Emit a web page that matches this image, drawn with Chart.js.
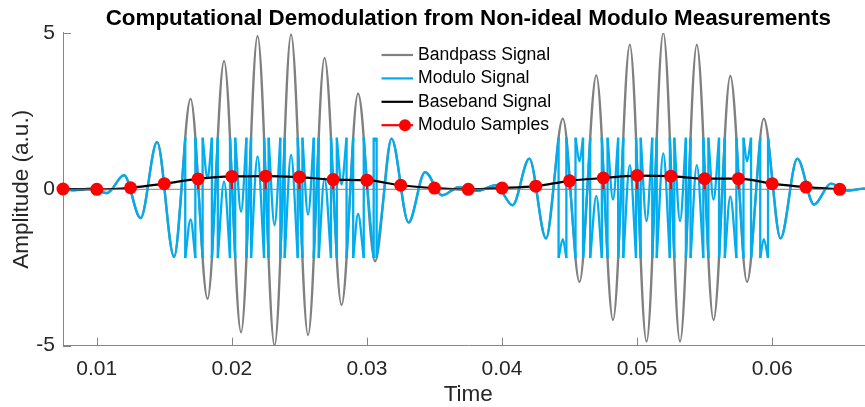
<!DOCTYPE html>
<html>
<head>
<meta charset="utf-8">
<script src="https://cdn.jsdelivr.net/npm/chart.js@4.4.1/dist/chart.umd.min.js"></script>
<style>
  html, body { margin: 0; padding: 0; background: #fff; overflow: hidden; }
  #wrap { width: 880px; height: 407px; }
</style>
</head>
<body>
<div id="wrap"><canvas id="chart" width="880" height="407"></canvas></div>
<script>
const titleText = 'Computational Demodulation from Non-ideal Modulo Measurements';
const xTitle = 'Time';
const yTitle = 'Amplitude (a.u.)';
const xMin = 0.0075, xMax = 0.0675;
const xTicks = [0.01, 0.02, 0.03, 0.04, 0.05, 0.06];
const xTickLabels = ['0.01', '0.02', '0.03', '0.04', '0.05', '0.06'];
const yTicks = [-5, 0, 5];
const legendOrder = ['Bandpass Signal', 'Modulo Signal', 'Baseband Signal', 'Modulo Samples'];

// modulo samples (stem) - also the baseband curve
const sampleTime = [0.0075, 0.01, 0.0125, 0.015, 0.0175, 0.02, 0.0225, 0.025, 0.0275, 0.03, 0.0325, 0.035,
    0.0375, 0.04, 0.0425, 0.045, 0.0475, 0.05, 0.0525, 0.055, 0.0575, 0.06, 0.0625, 0.065];
const sampleValue = [0.01, 0.0, 0.05, 0.18, 0.33, 0.41, 0.42, 0.39, 0.31, 0.29, 0.13, 0.04,
    0.0, 0.04, 0.10, 0.27, 0.36, 0.44, 0.42, 0.34, 0.34, 0.18, 0.07, 0.0];

// bandpass signal: [time, value] at its peaks and troughs
const bandpassSignal = [
    [0.0075, 0], [0.008283, -0.03], [0.009541, 0.02], [0.010762, -0.12], [0.012021, 0.45],
    [0.013242, -0.92], [0.014463, 1.51], [0.015722, -2.16], [0.016943, 2.89], [0.018201, -3.5],
    [0.019423, 4.1], [0.020681, -4.57], [0.021902, 4.9], [0.023161, -5.0], [0.024382, 4.95],
    [0.025640, -4.66], [0.026862, 4.2], [0.028120, -3.7], [0.029341, 3.06], [0.030600, -2.3],
    [0.031821, 1.62], [0.033080, -1.06], [0.034301, 0.55], [0.035559, -0.19], [0.036818, 0.07],
    [0.038150, -0.05], [0.039556, 0.13], [0.040778, -0.51], [0.042021, 0.98], [0.043257, -1.57],
    [0.044501, 2.26], [0.045737, -2.96], [0.046981, 3.64], [0.048217, -4.18], [0.049461, 4.62],
    [0.050697, -4.87], [0.051940, 5.0], [0.053177, -4.87], [0.054420, 4.62], [0.055656, -4.18],
    [0.056900, 3.62], [0.058137, -2.96], [0.059380, 2.26], [0.060616, -1.57], [0.061860, 0.98],
    [0.063096, -0.49], [0.064340, 0.18], [0.065576, -0.04], [0.066820, 0.02], [0.0675, 0.01]
];

// modulo signal: [time, value], a null value marks a fold (jump)
const moduloSignal = [
    [0.0075, 0], [0.008283, -0.03], [0.009541, 0.02], [0.010762, -0.12], [0.012021, 0.45],
    [0.013242, -0.92], [0.014463, 1.51], [0.015722, -2.16], [0.016333, 0.365], [0.016549, 1.65], [0.016549, null],
    [0.016549, -2.2], [0.016943, -0.96], [0.017298, -2.2], [0.017298, null],
    [0.017298, 1.65], [0.017572, -0.305], [0.017836, -2.2], [0.017836, null],
    [0.017836, 1.65], [0.018201, 0.35], [0.018522, 1.65], [0.018522, null],
    [0.018522, -2.2], [0.018812, 0.3], [0.018960, 1.65], [0.018960, null],
    [0.018960, -2.2], [0.019423, 0.25], [0.019864, -2.2], [0.019864, null],
    [0.019864, 1.65], [0.020052, -0.235], [0.020248, -2.2], [0.020248, null],
    [0.020248, 1.65], [0.020681, -0.72], [0.021080, 1.65], [0.021080, null],
    [0.021080, -2.2], [0.021292, 0.165], [0.021421, 1.65], [0.021421, null],
    [0.021421, -2.2], [0.021902, 1.05], [0.022385, -2.2], [0.022385, null],
    [0.022385, 1.65], [0.022532, -0.05], [0.022719, -2.2], [0.022719, null],
    [0.022719, 1.65], [0.023161, -1.15], [0.023588, 1.65], [0.023588, null],
    [0.023588, -2.2], [0.023772, -0.025], [0.023911, 1.65], [0.023911, null],
    [0.023911, -2.2], [0.024382, 1.10], [0.024878, -2.2], [0.024878, null],
    [0.024878, 1.65], [0.025011, 0.145], [0.025224, -2.2], [0.025224, null],
    [0.025224, 1.65], [0.025640, -0.81], [0.026064, 1.65], [0.026064, null],
    [0.026064, -2.2], [0.026251, -0.23], [0.026429, 1.65], [0.026429, null],
    [0.026429, -2.2], [0.026862, 0.35], [0.027339, -2.2], [0.027339, null],
    [0.027339, 1.65], [0.027491, 0.25], [0.027769, -2.2], [0.027769, null],
    [0.027769, 1.65], [0.028120, 0.15], [0.028492, 1.65], [0.028492, null],
    [0.028492, -2.2], [0.028731, -0.32], [0.028982, 1.65], [0.028982, null],
    [0.028982, -2.2], [0.029341, -0.79], [0.029764, -2.2], [0.029764, null],
    [0.029764, 1.65], [0.029971, 0.38], [0.030498, -2.2], [0.030498, null],
    [0.030498, 1.65], [0.030600, 1.55], [0.030716, 1.65], [0.030716, null],
    [0.030716, -2.2], [0.031211, -0.34], [0.031821, 1.62], [0.033080, -1.06], [0.034301, 0.55],
    [0.035559, -0.19], [0.036818, 0.07], [0.038150, -0.05], [0.039556, 0.13], [0.040778, -0.51],
    [0.042021, 0.98], [0.043257, -1.57], [0.043879, 0.345], [0.044187, 1.65], [0.044187, null],
    [0.044187, -2.2], [0.044501, -1.59], [0.044764, -2.2], [0.044764, null],
    [0.044764, 1.65], [0.045119, -0.35], [0.045440, -2.2], [0.045440, null],
    [0.045440, 1.65], [0.045737, 0.89], [0.046000, 1.65], [0.046000, null],
    [0.046000, -2.2], [0.046359, 0.34], [0.046528, 1.65], [0.046528, null],
    [0.046528, -2.2], [0.046981, -0.21], [0.047389, -2.2], [0.047389, null],
    [0.047389, 1.65], [0.047599, -0.27], [0.047811, -2.2], [0.047811, null],
    [0.047811, 1.65], [0.048217, -0.33], [0.048599, 1.65], [0.048599, null],
    [0.048599, -2.2], [0.048839, 0.22], [0.048976, 1.65], [0.048976, null],
    [0.048976, -2.2], [0.049461, 0.77], [0.049921, -2.2], [0.049921, null],
    [0.049921, 1.65], [0.050079, -0.125], [0.050265, -2.2], [0.050265, null],
    [0.050265, 1.65], [0.050697, -1.02], [0.051122, 1.65], [0.051122, null],
    [0.051122, -2.2], [0.051319, 0.065], [0.051454, 1.65], [0.051454, null],
    [0.051454, -2.2], [0.051940, 1.15], [0.052424, -2.2], [0.052424, null],
    [0.052424, 1.65], [0.052559, 0.065], [0.052754, -2.2], [0.052754, null],
    [0.052754, 1.65], [0.053177, -1.02], [0.053612, 1.65], [0.053612, null],
    [0.053612, -2.2], [0.053799, -0.125], [0.053957, 1.65], [0.053957, null],
    [0.053957, -2.2], [0.054420, 0.77], [0.054902, -2.2], [0.054902, null],
    [0.054902, 1.65], [0.055038, 0.22], [0.055276, -2.2], [0.055276, null],
    [0.055276, 1.65], [0.055656, -0.33], [0.056066, 1.65], [0.056066, null],
    [0.056066, -2.2], [0.056278, -0.28], [0.056492, 1.65], [0.056492, null],
    [0.056492, -2.2], [0.056900, -0.23], [0.057349, -2.2], [0.057349, null],
    [0.057349, 1.65], [0.057519, 0.33], [0.057875, -2.2], [0.057875, null],
    [0.057875, 1.65], [0.058137, 0.89], [0.058436, 1.65], [0.058436, null],
    [0.058436, -2.2], [0.058759, -0.35], [0.059115, 1.65], [0.059115, null],
    [0.059115, -2.2], [0.059380, -1.59], [0.059692, -2.2], [0.059692, null],
    [0.059692, 1.65], [0.059998, 0.345], [0.060616, -1.57], [0.061860, 0.98], [0.063096, -0.49],
    [0.064340, 0.18], [0.065576, -0.04], [0.066820, 0.02], [0.0675, 0.01]
];

const gray = '#808080';
const blue = '#00adef';
const red = '#ff0000';
const axisColor = '#868686';
const textColor = '#262626';
const fontFamily = '"Liberation Sans", Arial, Helvetica, sans-serif';

Chart.defaults.font.family = fontFamily;
Chart.defaults.color = textColor;

const toXY = pairs => pairs.map(([x, y]) => ({ x, y }));

// vertical jumps of the modulo signal, joined from the points around each break
const foldLines = [];
moduloSignal.forEach(([t, v], i) => {
    if (v === null) {
        const a = moduloSignal[i - 1], b = moduloSignal[i + 1];
        foldLines.push({ x: a[0], y: a[1] }, { x: b[0], y: b[1] }, { x: t, y: null });
    }
});

const baseband = sampleTime.map((t, i) => ({ x: t, y: sampleValue[i] }));
const stems = sampleTime.flatMap((t, i) => [{ x: t, y: 0 }, { x: t, y: sampleValue[i] }, { x: t, y: null }]);

// inward tick marks like matlab
const insideTicks = {
    id: 'insideTicks',
    beforeDatasetsDraw(chart) {
        const { ctx, chartArea: a, scales: { x, y } } = chart;
        ctx.save();
        ctx.strokeStyle = axisColor;
        ctx.lineWidth = 1;
        ctx.beginPath();
        xTicks.forEach(v => {
            const px = Math.round(x.getPixelForValue(v)) + 0.5;
            ctx.moveTo(px, a.bottom);
            ctx.lineTo(px, a.bottom - 8);
        });
        yTicks.forEach(v => {
            const py = Math.round(y.getPixelForValue(v)) + 0.5;
            ctx.moveTo(a.left, py);
            ctx.lineTo(a.left + 8, py);
        });
        ctx.stroke();
        ctx.restore();
    }
};

// legend drawn inside the axes
const innerLegend = {
    id: 'innerLegend',
    afterDraw(chart) {
        const ctx = chart.ctx;
        const sets = chart.data.datasets;
        ctx.save();
        ctx.font = '17.6px ' + fontFamily;
        ctx.textBaseline = 'middle';
        legendOrder.forEach((name, i) => {
            const d = sets.find(s => s.label === name && s.inLegend);
            const yy = 55 + i * 23.4;
            ctx.strokeStyle = d.borderColor;
            ctx.lineWidth = 2.2;
            ctx.beginPath();
            ctx.moveTo(381.5, yy);
            ctx.lineTo(413, yy);
            ctx.stroke();
            if (d.legendMarker) {
                ctx.fillStyle = d.borderColor;
                ctx.beginPath();
                ctx.arc(405, yy, 6, 0, Math.PI * 2);
                ctx.fill();
            }
            ctx.fillStyle = '#000';
            ctx.fillText(d.label, 418, yy);
        });
        ctx.restore();
    }
};

new Chart(document.getElementById('chart'), {
    type: 'line',
    data: {
        datasets: [
            {
                label: 'Modulo Samples', data: baseband, showLine: false,
                borderColor: red, backgroundColor: red, pointRadius: 6.5, pointBorderWidth: 0,
                clip: false, order: 0
            },
            {
                label: 'Modulo Samples', inLegend: true, legendMarker: true, data: stems,
                borderColor: red, borderWidth: 2.2, pointRadius: 0, order: 1
            },
            {
                label: 'baseline', data: [{ x: xMin, y: 0 }, { x: xMax, y: 0 }],
                borderColor: gray, borderWidth: 1, pointRadius: 0, order: 2
            },
            {
                label: 'Baseband Signal', inLegend: true, data: baseband,
                borderColor: '#000', borderWidth: 2.2, pointRadius: 0,
                cubicInterpolationMode: 'monotone', order: 3
            },
            {
                label: 'Modulo folds', data: foldLines,
                borderColor: blue, borderWidth: 2.3, pointRadius: 0, order: 4
            },
            {
                label: 'Modulo Signal', inLegend: true, data: toXY(moduloSignal),
                borderColor: blue, borderWidth: 2.3, pointRadius: 0,
                cubicInterpolationMode: 'monotone', order: 5
            },
            {
                label: 'Bandpass Signal', inLegend: true, data: toXY(bandpassSignal),
                borderColor: gray, borderWidth: 2.4, pointRadius: 0,
                cubicInterpolationMode: 'monotone', order: 6
            }
        ]
    },
    options: {
        responsive: false,
        animation: false,
        devicePixelRatio: 1,
        layout: { padding: { left: 0, right: 6.5, top: 0, bottom: 0 } },
        plugins: {
            legend: { display: false },
            tooltip: { enabled: false },
            title: {
                display: true, text: titleText, color: '#000', fullSize: false,
                font: { size: 22.4, weight: 'bold' }, padding: { top: 5, bottom: 1 }
            }
        },
        scales: {
            x: {
                type: 'linear', min: xMin, max: xMax,
                afterBuildTicks: s => { s.ticks = xTicks.map(v => ({ value: v })); },
                afterFit: s => { s.height = 61.3; },
                grid: { display: false, drawTicks: false },
                border: { display: true, color: axisColor, width: 1 },
                ticks: {
                    autoSkip: false, maxRotation: 0, padding: 11, color: textColor,
                    font: { size: 21 }, callback: (v, i) => xTickLabels[i]
                },
                title: {
                    display: true, text: xTitle, color: textColor,
                    font: { size: 22.5, lineHeight: 1 }, padding: { top: 0, bottom: 1 }
                }
            },
            y: {
                min: -5, max: 5,
                afterBuildTicks: s => { s.ticks = yTicks.map(v => ({ value: v })); },
                afterFit: s => { s.width = 63; },
                grid: { display: false, drawTicks: false },
                border: { display: true, color: axisColor, width: 1 },
                ticks: { padding: 8, color: textColor, font: { size: 21 }, callback: v => String(v) },
                title: {
                    display: true, text: yTitle, color: textColor,
                    font: { size: 22.5, lineHeight: 1 }, padding: { top: 11, bottom: 0 }
                }
            }
        }
    },
    plugins: [insideTicks, innerLegend]
});
</script>
</body>
</html>
